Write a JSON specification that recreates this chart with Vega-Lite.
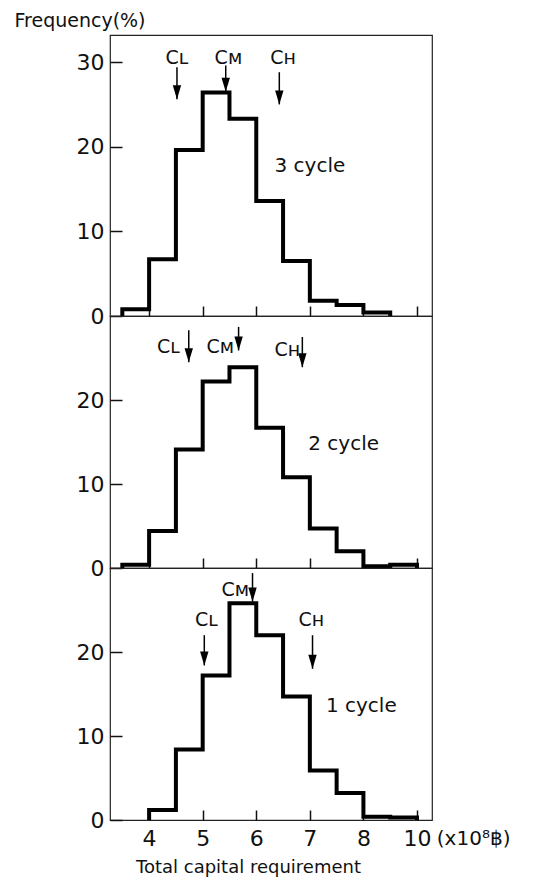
{
  "$schema": "https://vega.github.io/schema/vega-lite/v6.json",
  "background": "white",
  "padding": {"left": 13, "top": 10, "right": 5, "bottom": 0},
  "bounds": "flush",
  "spacing": 0,
  "config": {
    "font": "DejaVu Sans",
    "view": {"stroke": "#222", "strokeWidth": 1.2},
    "axis": {"grid": false, "domain": false, "tickColor": "#111", "tickWidth": 1.5, "labelColor": "#111", "titleColor": "#111", "labelFont": "DejaVu Sans", "titleFont": "DejaVu Sans", "titleFontWeight": "normal", "labelFontSize": 22}
  },
  "datasets": {
    "hist": [
      {"panel": "3 cycle", "x": 3.5, "freq": 0},
      {"panel": "3 cycle", "x": 3.5, "freq": 0.8},
      {"panel": "3 cycle", "x": 4.0, "freq": 6.7},
      {"panel": "3 cycle", "x": 4.5, "freq": 19.6},
      {"panel": "3 cycle", "x": 5.0, "freq": 26.4},
      {"panel": "3 cycle", "x": 5.5, "freq": 23.3},
      {"panel": "3 cycle", "x": 6.0, "freq": 13.6},
      {"panel": "3 cycle", "x": 6.5, "freq": 6.5},
      {"panel": "3 cycle", "x": 7.0, "freq": 1.8},
      {"panel": "3 cycle", "x": 7.5, "freq": 1.3},
      {"panel": "3 cycle", "x": 8.0, "freq": 0.4},
      {"panel": "3 cycle", "x": 8.5, "freq": 0},
      {"panel": "2 cycle", "x": 3.5, "freq": 0},
      {"panel": "2 cycle", "x": 3.5, "freq": 0.4},
      {"panel": "2 cycle", "x": 4.0, "freq": 4.4},
      {"panel": "2 cycle", "x": 4.5, "freq": 14.1},
      {"panel": "2 cycle", "x": 5.0, "freq": 22.2},
      {"panel": "2 cycle", "x": 5.5, "freq": 23.9},
      {"panel": "2 cycle", "x": 6.0, "freq": 16.7},
      {"panel": "2 cycle", "x": 6.5, "freq": 10.8},
      {"panel": "2 cycle", "x": 7.0, "freq": 4.7},
      {"panel": "2 cycle", "x": 7.5, "freq": 2.0},
      {"panel": "2 cycle", "x": 8.0, "freq": 0.2},
      {"panel": "2 cycle", "x": 8.5, "freq": 0.4},
      {"panel": "2 cycle", "x": 9.0, "freq": 0},
      {"panel": "1 cycle", "x": 4.0, "freq": 0},
      {"panel": "1 cycle", "x": 4.0, "freq": 1.2},
      {"panel": "1 cycle", "x": 4.5, "freq": 8.4},
      {"panel": "1 cycle", "x": 5.0, "freq": 17.2},
      {"panel": "1 cycle", "x": 5.5, "freq": 25.8},
      {"panel": "1 cycle", "x": 6.0, "freq": 22.0},
      {"panel": "1 cycle", "x": 6.5, "freq": 14.7},
      {"panel": "1 cycle", "x": 7.0, "freq": 5.9},
      {"panel": "1 cycle", "x": 7.5, "freq": 3.2},
      {"panel": "1 cycle", "x": 8.0, "freq": 0.4},
      {"panel": "1 cycle", "x": 8.5, "freq": 0.3},
      {"panel": "1 cycle", "x": 9.0, "freq": 0}
    ],
    "arrows": [
      {"panel": "3 cycle", "name": "Cʟ", "ax": 4.52, "top": 29.4, "tip": 25.6, "lx": 4.52, "ly": 30.5},
      {"panel": "3 cycle", "name": "Cᴍ", "ax": 5.43, "top": 29.6, "tip": 26.5, "lx": 5.48, "ly": 30.5},
      {"panel": "3 cycle", "name": "Cʜ", "ax": 6.43, "top": 28.8, "tip": 25.0, "lx": 6.5, "ly": 30.5},
      {"panel": "2 cycle", "name": "Cʟ", "ax": 4.74, "top": 28.3, "tip": 24.5, "lx": 4.36, "ly": 26.3},
      {"panel": "2 cycle", "name": "Cᴍ", "ax": 5.67, "top": 28.7, "tip": 25.9, "lx": 5.33, "ly": 26.3},
      {"panel": "2 cycle", "name": "Cʜ", "ax": 6.86, "top": 27.5, "tip": 23.9, "lx": 6.58, "ly": 26.0},
      {"panel": "1 cycle", "name": "Cʟ", "ax": 5.03, "top": 22.0, "tip": 18.4, "lx": 5.07, "ly": 23.8},
      {"panel": "1 cycle", "name": "Cᴍ", "ax": 5.93, "top": 29.4, "tip": 26.0, "lx": 5.61, "ly": 27.4},
      {"panel": "1 cycle", "name": "Cʜ", "ax": 7.05, "top": 22.0, "tip": 18.0, "lx": 7.03, "ly": 23.8}
    ],
    "cycles": [
      {"panel": "3 cycle", "label": "3  cycle", "x": 6.34, "y": 17.7},
      {"panel": "2 cycle", "label": "2  cycle", "x": 6.97, "y": 14.75},
      {"panel": "1 cycle", "label": "1  cycle", "x": 7.3, "y": 13.6}
    ],
    "units": [
      {"label": "(x10⁸฿)", "x": 9.37, "y": -2.26}
    ]
  },
  "vconcat": [
    {
      "width": 322,
      "height": 281,
      "layer": [
        {
          "data": {"name": "hist"},
          "transform": [{"filter": "datum.panel == '3 cycle'"}],
          "mark": {"type": "line", "interpolate": "step-after", "color": "#000", "strokeWidth": 4},
          "encoding": {
            "x": {"field": "x", "type": "quantitative", "scale": {"domain": [3.27, 9.28], "nice": false, "zero": false},
                  "axis": {"values": [4, 5, 6, 7, 8, 9], "labels": false, "tickSize": -10, "title": null}},
            "y": {"field": "freq", "type": "quantitative", "scale": {"domain": [0, 33.2], "nice": false},
                  "axis": {"values": [0, 10, 20, 30], "format": "d", "tickSize": -12, "labelPadding": 18, "title": "Frequency(%)", "titleAngle": 0, "titleAlign": "left", "titleBaseline": "alphabetic", "titleX": -96, "titleY": -9, "titleFontSize": 19}}
          }
        },
        {
          "data": {"name": "arrows"},
          "transform": [{"filter": "datum.panel == '3 cycle'"}],
          "mark": {"type": "rule", "color": "#000", "strokeWidth": 1.5},
          "encoding": {"x": {"field": "ax", "type": "quantitative"}, "y": {"field": "top", "type": "quantitative"}, "y2": {"field": "tip"}}
        },
        {
          "data": {"name": "arrows"},
          "transform": [{"filter": "datum.panel == '3 cycle'"}],
          "mark": {"type": "point", "shape": "M-0.3,-1L0.3,-1L0,0Z", "filled": true, "size": 784, "color": "#000", "opacity": 1},
          "encoding": {"x": {"field": "ax", "type": "quantitative"}, "y": {"field": "tip", "type": "quantitative"}}
        },
        {
          "data": {"name": "arrows"},
          "transform": [{"filter": "datum.panel == '3 cycle'"}],
          "mark": {"type": "text", "fontSize": 19, "align": "center", "baseline": "middle", "color": "#111"},
          "encoding": {"x": {"field": "lx", "type": "quantitative"}, "y": {"field": "ly", "type": "quantitative"}, "text": {"field": "name"}}
        },
        {
          "data": {"name": "cycles"},
          "transform": [{"filter": "datum.panel == '3 cycle'"}],
          "mark": {"type": "text", "fontSize": 20, "align": "left", "baseline": "middle", "color": "#111"},
          "encoding": {"x": {"field": "x", "type": "quantitative"}, "y": {"field": "y", "type": "quantitative"}, "text": {"field": "label"}}
        }
      ]
    },
    {
      "width": 322,
      "height": 252,
      "layer": [
        {
          "data": {"name": "hist"},
          "transform": [{"filter": "datum.panel == '2 cycle'"}],
          "mark": {"type": "line", "interpolate": "step-after", "color": "#000", "strokeWidth": 4},
          "encoding": {
            "x": {"field": "x", "type": "quantitative", "scale": {"domain": [3.27, 9.28], "nice": false, "zero": false},
                  "axis": {"values": [4, 5, 6, 7, 8, 9], "labels": false, "tickSize": -10, "title": null}},
            "y": {"field": "freq", "type": "quantitative", "scale": {"domain": [0, 30], "nice": false},
                  "axis": {"values": [0, 10, 20], "format": "d", "tickSize": -12, "labelPadding": 18, "title": null}}
          }
        },
        {
          "data": {"name": "arrows"},
          "transform": [{"filter": "datum.panel == '2 cycle'"}],
          "mark": {"type": "rule", "color": "#000", "strokeWidth": 1.5},
          "encoding": {"x": {"field": "ax", "type": "quantitative"}, "y": {"field": "top", "type": "quantitative"}, "y2": {"field": "tip"}}
        },
        {
          "data": {"name": "arrows"},
          "transform": [{"filter": "datum.panel == '2 cycle'"}],
          "mark": {"type": "point", "shape": "M-0.3,-1L0.3,-1L0,0Z", "filled": true, "size": 784, "color": "#000", "opacity": 1},
          "encoding": {"x": {"field": "ax", "type": "quantitative"}, "y": {"field": "tip", "type": "quantitative"}}
        },
        {
          "data": {"name": "arrows"},
          "transform": [{"filter": "datum.panel == '2 cycle'"}],
          "mark": {"type": "text", "fontSize": 19, "align": "center", "baseline": "middle", "color": "#111"},
          "encoding": {"x": {"field": "lx", "type": "quantitative"}, "y": {"field": "ly", "type": "quantitative"}, "text": {"field": "name"}}
        },
        {
          "data": {"name": "cycles"},
          "transform": [{"filter": "datum.panel == '2 cycle'"}],
          "mark": {"type": "text", "fontSize": 20, "align": "left", "baseline": "middle", "color": "#111"},
          "encoding": {"x": {"field": "x", "type": "quantitative"}, "y": {"field": "y", "type": "quantitative"}, "text": {"field": "label"}}
        }
      ]
    },
    {
      "width": 322,
      "height": 252,
      "layer": [
        {
          "data": {"name": "hist"},
          "transform": [{"filter": "datum.panel == '1 cycle'"}],
          "mark": {"type": "line", "interpolate": "step-after", "color": "#000", "strokeWidth": 4},
          "encoding": {
            "x": {"field": "x", "type": "quantitative", "scale": {"domain": [3.27, 9.28], "nice": false, "zero": false},
                  "axis": {"values": [4, 5, 6, 7, 8, 9], "format": "d", "labelExpr": "datum.value == 9 ? '10' : datum.label", "tickSize": -10, "labelPadding": 18, "title": "Total capital requirement", "titleFontSize": 18, "titleX": 138, "titleY": 38, "titleBaseline": "top"}},
            "y": {"field": "freq", "type": "quantitative", "scale": {"domain": [0, 30], "nice": false},
                  "axis": {"values": [0, 10, 20], "format": "d", "tickSize": -12, "labelPadding": 18, "title": null}}
          }
        },
        {
          "data": {"name": "arrows"},
          "transform": [{"filter": "datum.panel == '1 cycle'"}],
          "mark": {"type": "rule", "color": "#000", "strokeWidth": 1.5},
          "encoding": {"x": {"field": "ax", "type": "quantitative"}, "y": {"field": "top", "type": "quantitative"}, "y2": {"field": "tip"}}
        },
        {
          "data": {"name": "arrows"},
          "transform": [{"filter": "datum.panel == '1 cycle'"}],
          "mark": {"type": "point", "shape": "M-0.3,-1L0.3,-1L0,0Z", "filled": true, "size": 784, "color": "#000", "opacity": 1},
          "encoding": {"x": {"field": "ax", "type": "quantitative"}, "y": {"field": "tip", "type": "quantitative"}}
        },
        {
          "data": {"name": "arrows"},
          "transform": [{"filter": "datum.panel == '1 cycle'"}],
          "mark": {"type": "text", "fontSize": 19, "align": "center", "baseline": "middle", "color": "#111"},
          "encoding": {"x": {"field": "lx", "type": "quantitative"}, "y": {"field": "ly", "type": "quantitative"}, "text": {"field": "name"}}
        },
        {
          "data": {"name": "cycles"},
          "transform": [{"filter": "datum.panel == '1 cycle'"}],
          "mark": {"type": "text", "fontSize": 20, "align": "left", "baseline": "middle", "color": "#111"},
          "encoding": {"x": {"field": "x", "type": "quantitative"}, "y": {"field": "y", "type": "quantitative"}, "text": {"field": "label"}}
        },
        {
          "data": {"name": "units"},
          "mark": {"type": "text", "fontSize": 20, "align": "left", "baseline": "middle", "color": "#111"},
          "encoding": {"x": {"field": "x", "type": "quantitative"}, "y": {"field": "y", "type": "quantitative"}, "text": {"field": "label"}}
        }
      ]
    }
  ]
}
